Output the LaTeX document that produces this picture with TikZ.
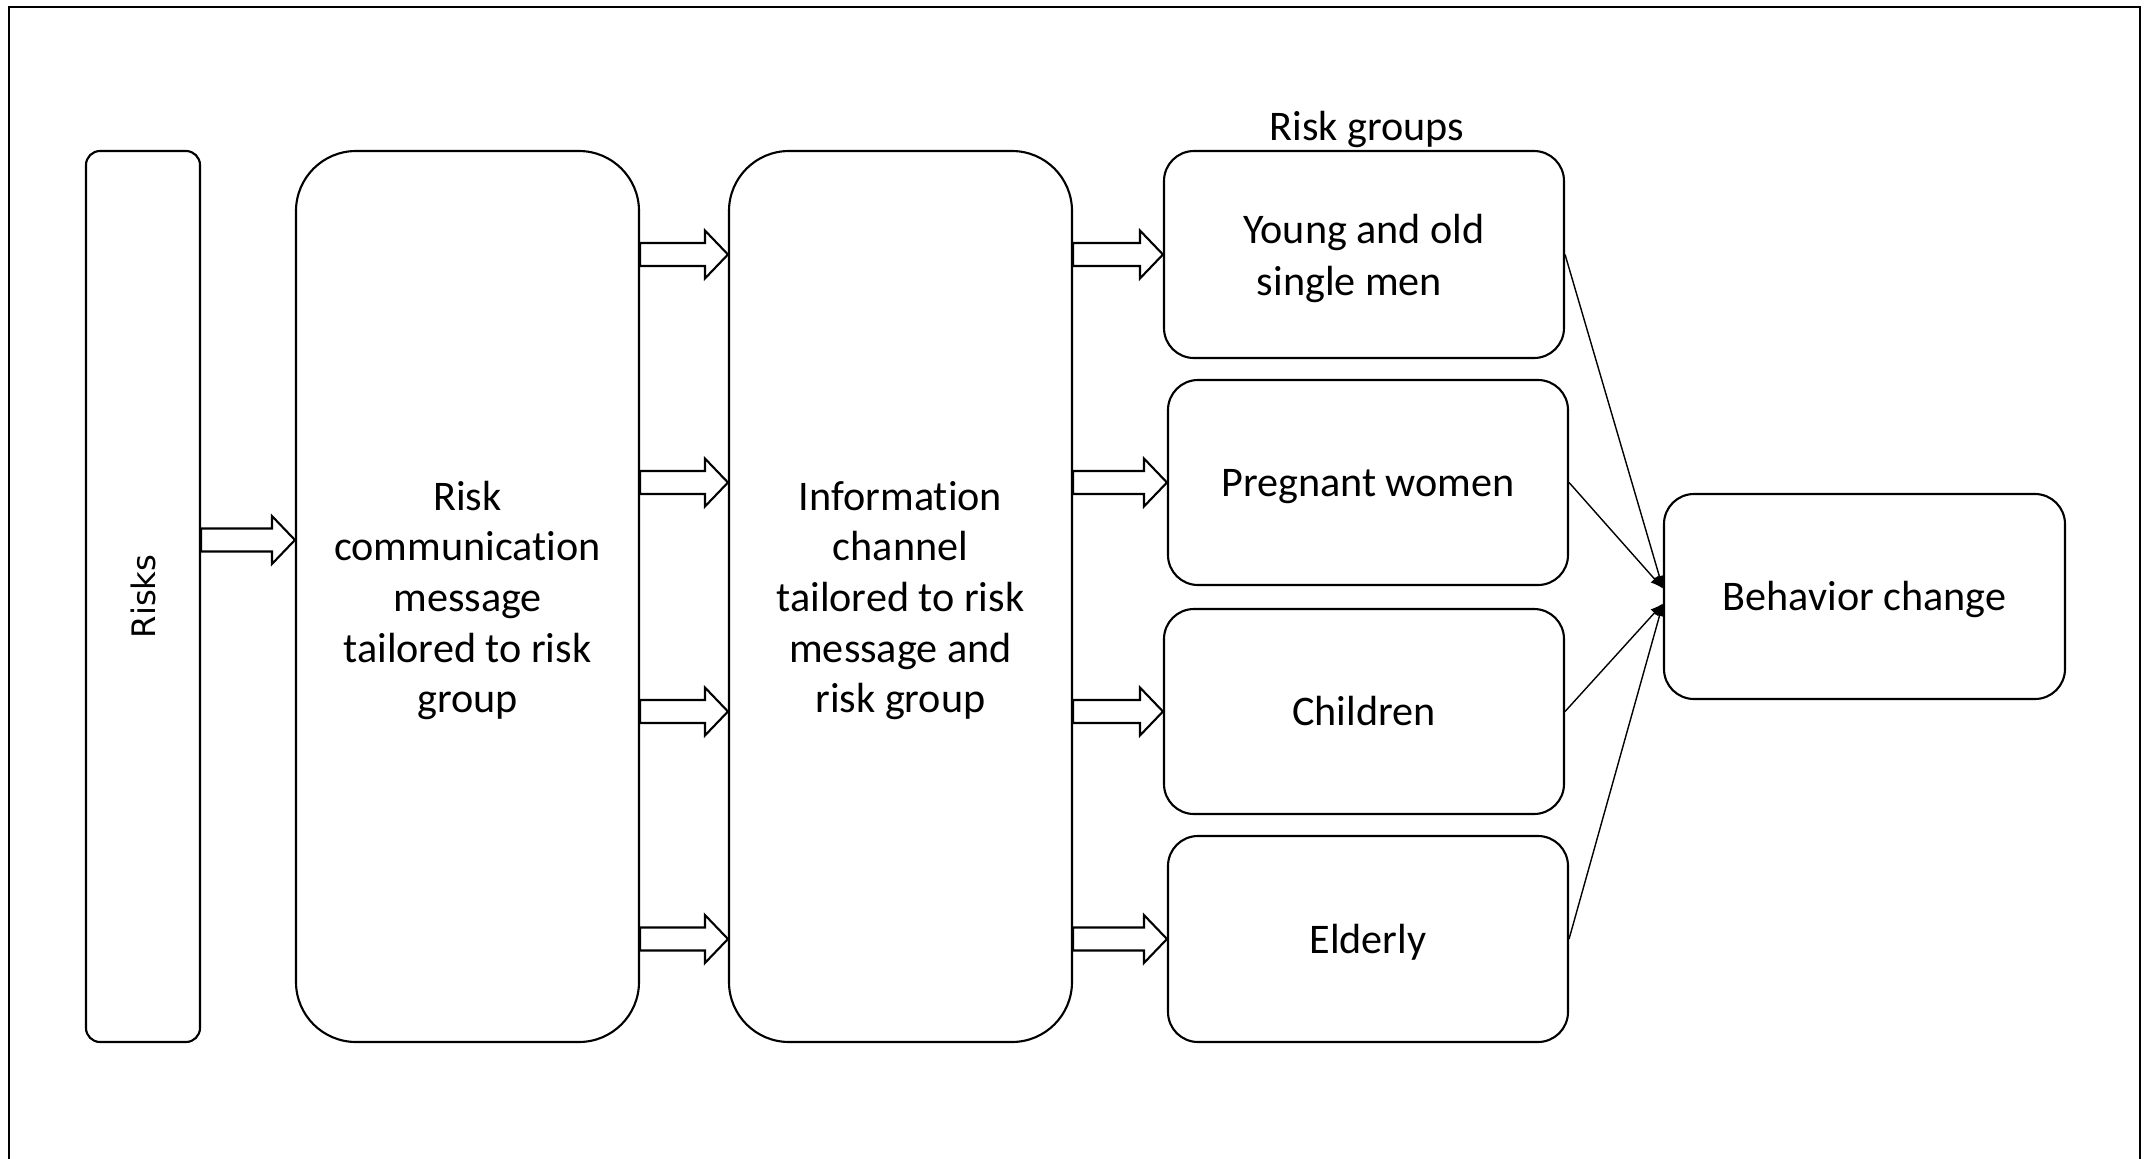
\documentclass[tikz,border=0pt]{standalone}
\usepackage{fontspec}
\setmainfont{Carlito}[Ligatures=NoCommon]
\newfontfamily\risksfont{DejaVu Sans}
\usetikzlibrary{calc,arrows.meta}

\tikzset{
  box/.style={draw, line width=0.6pt, rounded corners=#1, align=center, inner sep=0pt,
    execute at begin node={\rule{0pt}{0.95em}}, execute at end node={\rule[-0.27em]{0pt}{0pt}}},
  txt/.style={align=center, inner sep=0pt},
  fatarr/.style={draw, line width=0.6pt, fill=white},
  thin/.style={draw, line width=0.4pt, -{Latex[length=3.6pt,width=3pt]}}
}

% hollow block arrow between two points on one level
\newcommand{\fatarrow}[2]{%
  \coordinate (fa1) at (#1);
  \coordinate (fa2) at (#2);
  \path[fatarr] ($(fa1)+(0,-11.5)$) -- ($(fa2)+(-23,-11.5)$) -- ($(fa2)+(-23,-24)$) -- (fa2)
    -- ($(fa2)+(-23,24)$) -- ($(fa2)+(-23,11.5)$) -- ($(fa1)+(0,11.5)$) -- cycle;
}

\begin{document}
\begin{tikzpicture}[x=0.1mm, y=-0.1mm, font=\fontsize{12}{14.4}\selectfont]

\useasboundingbox (0,0) rectangle (2150,1159);
\draw[line width=0.6pt] (9,1159) -- (9,7) -- (2140,7) -- (2140,1159);

\node (risks) [box=1.4mm, minimum width=11.4mm, minimum height=89.1mm] at (143,596.5) {};
\node (riskstx) [rotate=90, font=\risksfont\fontsize{9.2}{11}\selectfont] at (risks) {Risks};
\node (comm) [box=6mm, minimum width=34.3mm, minimum height=89.1mm] at (467.5,596.5) {};
\node (commtx) [txt] at ($(comm)+(0,4)$) {Risk\\communication\\message\\tailored to risk\\group};
\node (info) [box=6mm, minimum width=34.3mm, minimum height=89.1mm] at (900.5,596.5) {};
\node (infotx) [txt] at ($(info)+(0,4)$) {Information\\channel\\tailored to risk\\message and\\risk group};

\node (young) [box=3mm, minimum width=40mm, minimum height=20.7mm] at (1364,254.5) {};
\node (youngtx) [txt, font=\fontsize{12}{14.8}\selectfont] at ($(young)+(0,4)$)
  {Young and old\\single men\hspace*{2.9mm}};
\node (preg) [box=3mm, minimum width=40mm, minimum height=20.5mm] at (1368,482.5) {Pregnant women};
\node (child) [box=3mm, minimum width=40mm, minimum height=20.5mm] at (1364,711.5) {Children};
\node (elder) [box=3mm, minimum width=40mm, minimum height=20.6mm] at (1368,939) {Elderly};
\node (grp) at (1367,129) {Risk groups};

\node (behav) [box=3mm, minimum width=40.1mm, minimum height=20.5mm] at (1864.5,596.5) {Behavior change};

\fatarrow{risks.east |- 0,540}{comm.west |- 0,540}
\foreach \g in {young,preg,child,elder} {
  \fatarrow{comm.east |- \g}{info.west |- \g}
  \fatarrow{info.east |- \g}{\g.west}
}

\coordinate (bin1) at ($(behav.west)+(0,-8)$);
\coordinate (bin2) at ($(behav.west)+(0,7)$);
\draw[thin] (young.east) -- (bin1);
\draw[thin] (preg.east) -- (bin1);
\draw[thin] (child.east) -- (bin2);
\draw[thin] (elder.east) -- (bin2);
\end{tikzpicture}
\end{document}
